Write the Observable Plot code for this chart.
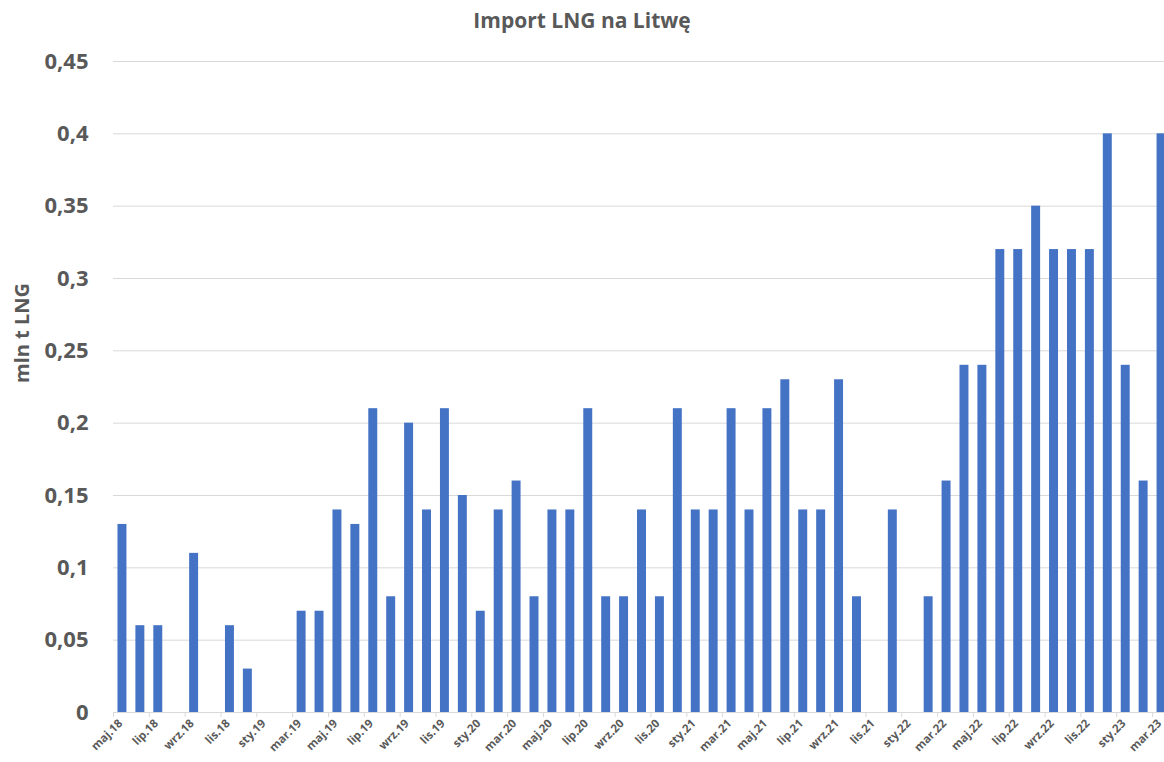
<!DOCTYPE html>
<html lang="pl">
<head>
<meta charset="utf-8">
<script src="https://cdn.jsdelivr.net/npm/d3@7"></script>
<script src="https://cdn.jsdelivr.net/npm/@observablehq/plot@0.6"></script>
<style>
  body { margin: 0; background: #fff; overflow: hidden; font-family: "Open Sans", sans-serif; }
  #title { height: 40px; line-height: 40px; text-align: center; font-weight: bold; font-size: 21px; color: #595959; }
  #chart svg { display: block; overflow: hidden; }
</style>
</head>
<body>
<div id="title">Import LNG na Litwę</div>
<div id="chart"></div>
<script>
// Miesiące od maja 2018 do marca 2023
const months = [
  "maj.18","cze.18","lip.18","sie.18","wrz.18","paź.18","lis.18","gru.18",
  "sty.19","lut.19","mar.19","kwi.19","maj.19","cze.19","lip.19","sie.19","wrz.19","paź.19","lis.19","gru.19",
  "sty.20","lut.20","mar.20","kwi.20","maj.20","cze.20","lip.20","sie.20","wrz.20","paź.20","lis.20","gru.20",
  "sty.21","lut.21","mar.21","kwi.21","maj.21","cze.21","lip.21","sie.21","wrz.21","paź.21","lis.21","gru.21",
  "sty.22","lut.22","mar.22","kwi.22","maj.22","cze.22","lip.22","sie.22","wrz.22","paź.22","lis.22","gru.22",
  "sty.23","lut.23","mar.23"
];

// Import LNG, mln t
const imports = [
  0.13, 0.06, 0.06, 0, 0.11, 0, 0.06, 0.03,
  0, 0, 0.07, 0.07, 0.14, 0.13, 0.21, 0.08, 0.20, 0.14, 0.21, 0.15,
  0.07, 0.14, 0.16, 0.08, 0.14, 0.14, 0.21, 0.08, 0.08, 0.14, 0.08, 0.21,
  0.14, 0.14, 0.21, 0.14, 0.21, 0.23, 0.14, 0.14, 0.23, 0.08, 0, 0.14,
  0, 0.08, 0.16, 0.24, 0.24, 0.32, 0.32, 0.35, 0.32, 0.32, 0.32, 0.40,
  0.24, 0.16, 0.40
];

// Podpisane miesiące (co drugi)
const labeledMonths = months.filter((d, i) => i % 2 === 0);

// Podziałka osi Y
const yTicks = [0, 0.05, 0.1, 0.15, 0.2, 0.25, 0.3, 0.35, 0.4, 0.45];

const data = months.map((m, i) => ({month: m, value: imports[i]}));
const fmt = d => String(+d.toFixed(2)).replace(".", ",");

const left = 113, right = 1170;
const step = (right - left) / months.length;
const ink = "#595959";

const chart = Plot.plot({
  width: 1164,
  height: 722,
  marginTop: 21,
  marginBottom: 50,
  marginLeft: left,
  marginRight: 0,
  style: {fontFamily: "'Open Sans', sans-serif", color: ink, background: "#fff"},
  x: {type: "band", domain: months, range: [left, right], paddingInner: 0.5, paddingOuter: 0.25, axis: null},
  y: {domain: [0, 0.45], axis: null},
  marks: [
    Plot.ruleY(yTicks, {stroke: "#d9d9d9", strokeWidth: 1}),
    Plot.barY(data, {x: "month", y: "value", fill: "#4472C4"}),
    Plot.ruleX(labeledMonths, {x: d => d, y1: 0, y2: -0.0035, dx: -step / 2, stroke: "#d9d9d9"}),
    Plot.axisY({ticks: yTicks, tickSize: 0, tickPadding: 25, tickFormat: fmt, fontSize: 22, fontWeight: "bold", fill: ink, label: null}),
    Plot.axisX({ticks: labeledMonths, tickSize: 0, tickPadding: 9, tickRotate: -45, dx: -2, fontSize: 11.5, fontWeight: "bold", fill: ink, label: null}),
    Plot.text(["mln t LNG"], {frameAnchor: "left", dx: -91, dy: -4, rotate: -90, fontSize: 20, fontWeight: "bold", fill: ink})
  ]
});

document.getElementById("chart").appendChild(chart);
</script>
</body>
</html>
